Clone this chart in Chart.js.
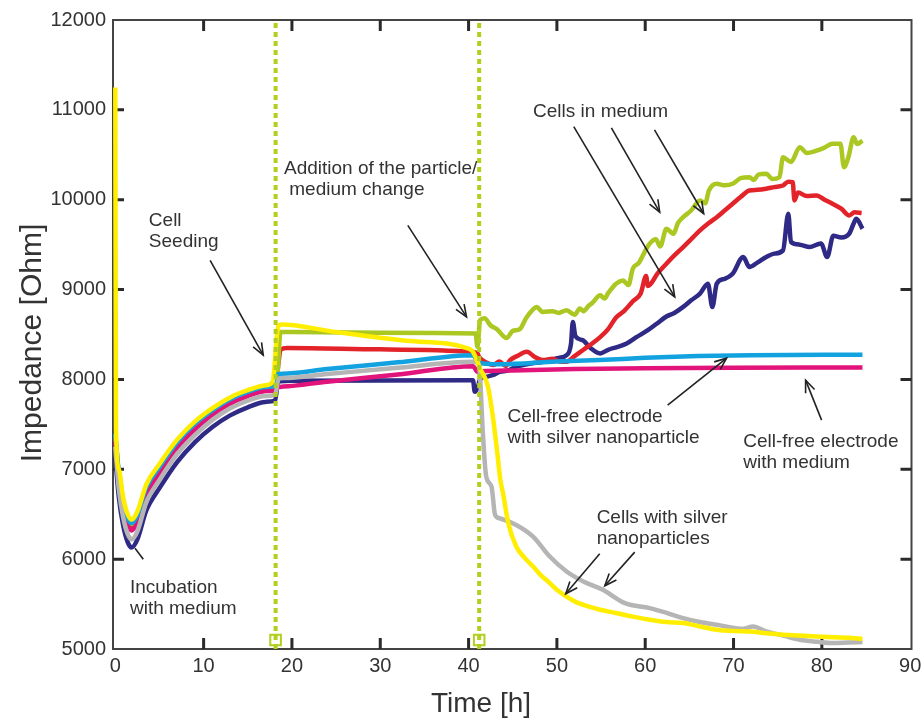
<!DOCTYPE html>
<html>
<head>
<meta charset="utf-8">
<script src="https://cdn.jsdelivr.net/npm/chart.js@4.4.0/dist/chart.umd.min.js"></script>
<style>
  html, body { margin: 0; padding: 0; background: #fff; }
  #wrap { width: 921px; height: 720px; }
</style>
</head>
<body>
<div id="wrap"><canvas id="impChart" width="921" height="720"></canvas></div>
<script>
/* ─── Axis ticks ─── */
const xTicks = [0, 10, 20, 30, 40, 50, 60, 70, 80, 90];
const yTicks = [5000, 6000, 7000, 8000, 9000, 10000, 11000, 12000];

/* ─── Events: cell seeding / particle addition (h) ─── */
const eventTimes = [18.15, 41.2];
const eventMarkerZ = 5100;

/* ─── Incubation phase, shared time base (h) ─── */
const incT = [0, 0.4, 0.9, 1.4, 1.85, 2.5, 3.5, 5, 7, 9, 11, 13, 15, 17, 18.1];

/* ─── Cells with silver nanoparticles (yellow) ─── */
const yellowT = [0, 0.08, 0.4, 0.9, 1.4, 1.85, 2.5, 3.5, 5, 7, 9, 11, 13, 15, 17, 17.8, 18.45, 18.8, 25, 33, 40, 40.5, 41.3, 42.2, 42.8, 43.3, 43.6, 43.9, 44.5, 45.4, 46.3, 47.3, 48.2, 49.2, 50.1, 51.1, 52, 53, 54.8, 56.7, 58.6, 60.5, 62.4, 64.3, 66.2, 68.1, 70, 71.8, 73.7, 75.6, 77.5, 79.4, 81.2, 83, 84.6];
const yellowZ = [11250, 7450, 7000, 6680, 6500, 6440, 6530, 6830, 7060, 7330, 7530, 7680, 7800, 7880, 7935, 7970, 8590, 8611, 8527, 8430, 8344, 8307, 8122, 7918, 7548, 7140, 6881, 6733, 6400, 6140, 6020, 5918, 5820, 5733, 5650, 5584, 5530, 5492, 5440, 5400, 5360, 5326, 5300, 5289, 5250, 5214, 5200, 5196, 5175, 5159, 5150, 5140, 5130, 5125, 5114];

/* ─── Cells with silver nanoparticles (gray) ─── */
const grayT = incT.concat([18.5, 19.0, 24, 32, 40.5, 41.1, 41.3, 41.6, 42, 42.6, 43, 43.5, 45.4, 47.3, 49.2, 51.1, 53, 55.2, 57.7, 60.5, 62.5, 64.3, 66.2, 68.1, 71.1, 72.2, 73.7, 75.6, 77.5, 79.5, 81.2, 83, 84.6]);
const grayZ = [7250, 6780, 6460, 6280, 6220, 6310, 6630, 6880, 7170, 7380, 7550, 7680, 7765, 7815, 7830,
  8011, 8015, 8060, 8130, 8196, 8180, 8029, 7436, 6918, 6807, 6492, 6455, 6381, 6251, 6029, 5862, 5751, 5659, 5511, 5455, 5400, 5344, 5300, 5270, 5225, 5251, 5196, 5150, 5103, 5080, 5066, 5072, 5077];

/* ─── Cell-free electrode with silver nanoparticle (cyan) ─── */
const cyanT = incT.concat([18.4, 18.9, 24, 32, 40.5, 41.0, 41.6, 43.5, 50, 54.8, 60, 66, 72, 84.6]);
const cyanZ = [7400, 6960, 6640, 6460, 6400, 6490, 6795, 7025, 7300, 7505, 7658, 7780, 7862, 7915, 7930,
  8059, 8064, 8115, 8190, 8270, 8200, 8178, 8170, 8200, 8215, 8240, 8260, 8270, 8275];

/* ─── Cell-free electrode with medium (magenta) ─── */
const magentaT = incT.concat([18.4, 19.0, 24, 32, 40.5, 41.0, 41.5, 45, 52, 60, 70, 84.6]);
const magentaZ = [7310, 6880, 6560, 6380, 6320, 6410, 6715, 6950, 7230, 7440, 7600, 7730, 7815, 7870, 7880,
  7914, 7920, 7975, 8055, 8148, 8085, 8090, 8100, 8115, 8125, 8130, 8133];

/* ─── Cells in medium (green) ─── */
const greenT = incT.concat([18.4, 18.7, 20, 30, 40.8, 41.0, 41.3, 41.8, 42.5, 43.2, 44.3, 45.0, 45.8, 46.5, 47.3, 47.7, 48.4, 49.5, 50.2, 51.1, 52, 52.6, 53, 53.6, 54, 54.9, 55.4, 55.8, 56.7, 57.5, 58.1, 58.6, 59.3, 60, 60.5, 61.2, 61.7, 62.4, 62.9, 63.2, 63.7, 64.3, 65.2, 66.2, 66.8, 67.2, 68.1, 69, 69.9, 70.8, 71.8, 72.3, 72.8, 73.7, 74.4, 75.2, 75.6, 76.5, 77.5, 78.3, 79.4, 80.3, 81.2, 82.1, 82.5, 83.0, 83.6, 84.0, 84.6]);
const greenZ = [7390, 6950, 6630, 6450, 6390, 6480, 6785, 7015, 7290, 7495, 7648, 7770, 7852, 7905, 7920,
  8100, 8529, 8527, 8520, 8511, 8362, 8660, 8680, 8600, 8560, 8460, 8540, 8560, 8680, 8780, 8806, 8750, 8760, 8740, 8770, 8720, 8790, 8760, 8820, 8850, 8937, 8900, 8960, 9066, 9100, 9050, 9233, 9300, 9430, 9511, 9560, 9480, 9677, 9640, 9620, 9740, 9806, 9880, 9992, 9960, 10100, 10177, 10160, 10177, 10240, 10251, 10220, 10280, 10288, 10230, 10250, 10473, 10420, 10584, 10520, 10547, 10580, 10622, 10622, 10362, 10473, 10695, 10620, 10658];

/* ─── Cells in medium (red) ─── */
const redT = incT.concat([18.5, 18.7, 19.5, 30, 40.5, 41.0, 41.2, 42, 42.8, 43.5, 44.2, 44.7, 45.5, 46.6, 47.5, 48.4, 49.5, 50.3, 51.1, 52, 53, 54, 54.9, 55.8, 56.7, 57.6, 58.6, 59.5, 60.1, 60.3, 61.4, 62.4, 63.3, 64.3, 65.2, 66.2, 67.2, 68.1, 69, 69.9, 70.8, 71.8, 72.7, 73.7, 74.6, 75.6, 76.2, 76.7, 76.9, 77.3, 78.3, 79.4, 80.3, 81.2, 82.2, 83.1, 83.7, 84.5]);
const redZ = [7340, 6910, 6590, 6410, 6350, 6440, 6745, 6980, 7255, 7465, 7625, 7750, 7835, 7890, 7905,
  8200, 8330, 8350, 8335, 8307, 8290, 8250, 8190, 8160, 8200, 8150, 8215, 8260, 8307, 8250, 8215, 8230, 8200, 8196, 8260, 8330, 8400, 8470, 8560, 8690, 8760, 8870, 8960, 9150, 9040, 9180, 9288, 9380, 9473, 9560, 9658, 9740, 9806, 9880, 9955, 10030, 10103, 10110, 10122, 10140, 10158, 10200, 10195, 9992, 10080, 10040, 10048, 10000, 9955, 9900, 9825, 9860, 9851];

/* ─── Cells in medium (navy) ─── */
const navyT = incT.concat([18.4, 18.7, 20, 40.5, 40.7, 41.0, 41.3, 42, 42.8, 43.5, 44.5, 45.3, 46.2, 47.2, 48.2, 49.2, 50.2, 51.1, 51.6, 51.8, 52.1, 52.9, 53.8, 54.9, 55.8, 56.8, 57.9, 59, 60.3, 61.3, 62.4, 63.3, 64.3, 65.2, 66.2, 67.1, 67.6, 68.1, 69, 69.9, 71.1, 71.8, 72.7, 73.7, 74.6, 75.6, 76.2, 76.5, 77.5, 78.6, 79.9, 80.6, 81.3, 82.2, 83.1, 83.6, 83.9, 84.6]);
const navyZ = [7130, 6690, 6370, 6190, 6130, 6220, 6540, 6790, 7080, 7300, 7470, 7600, 7690, 7750, 7765,
  7960, 7981, 7985, 7992, 7862, 7900, 8000, 8029, 8050, 8084, 8100, 8140, 8160, 8180, 8190, 8215, 8240, 8270, 8400, 8640, 8480, 8437, 8350, 8289, 8330, 8360, 8400, 8470, 8548, 8620, 8700, 8740, 8807, 8880, 8955, 9066, 8807, 9066, 9120, 9177, 9362, 9251, 9300, 9362, 9400, 9436, 9844, 9529, 9500, 9473, 9514, 9362, 9600, 9580, 9622, 9736, 9788, 9677];

/* ─── Annotations (data coordinates: h, Ohm) ─── */
const notes = [
    { lines: ['Cell', 'Seeding'], t: 3.8, z: 9762 },
    { lines: ['Addition of the particle/', ' medium change'], t: 19.1, z: 10344 },
    { lines: ['Cells in medium'], t: 47.3, z: 10984 },
    { lines: ['Cell-free electrode', 'with silver nanoparticle'], t: 44.4, z: 7584 },
    { lines: ['Cell-free electrode', 'with medium'], t: 71.1, z: 7307 },
    { lines: ['Cells with silver', 'nanoparticles'], t: 54.5, z: 6456 },
    { lines: ['Incubation', 'with medium'], t: 1.66, z: 5678 }
];
const pointers = [
    { from: [10.74, 9326], to: [16.75, 8270], head: true },
    { from: [33.12, 9715], to: [39.77, 8696], head: true },
    { from: [51.91, 10814], to: [63.34, 8918], head: true },
    { from: [56.17, 10800], to: [61.64, 9862], head: true },
    { from: [61.05, 10778], to: [66.62, 9844], head: true },
    { from: [62.54, 7714], to: [69.22, 8237], head: true },
    { from: [79.97, 7547], to: [78.16, 7992], head: true },
    { from: [54.85, 6059], to: [51.0, 5614], head: true },
    { from: [58.81, 6078], to: [55.42, 5703], head: true },
    { from: [3.17, 6000], to: [2.23, 6122], head: false }
];

const FONT = '"Liberation Sans", Arial, Helvetica, sans-serif';
const INK = '#333333';

function pts(T, Z) {
    return T.map(function (t, i) { return { x: t, y: Z[i] }; });
}

function curve(label, T, Z, color, order) {
    return {
        label: label,
        data: pts(T, Z),
        borderColor: color,
        borderWidth: 4.5,
        pointRadius: 0,
        fill: false,
        cubicInterpolationMode: 'monotone',
        order: order
    };
}

/* ─── Frame with inward ticks, axis titles, notes ─── */
const decorPlugin = {
    id: 'decor',
    beforeDatasetsDraw: function (chart) {
        const ctx = chart.ctx;
        const a = chart.chartArea;
        const xs = chart.scales.x, ys = chart.scales.y;
        ctx.save();
        ctx.strokeStyle = '#444';
        ctx.lineWidth = 2;
        ctx.strokeRect(a.left, a.top, a.right - a.left, a.bottom - a.top);
        ctx.strokeStyle = '#2a2a2a';
        ctx.lineWidth = 3;
        ctx.beginPath();
        xTicks.slice(1, -1).forEach(function (v) {
            const p = xs.getPixelForValue(v);
            ctx.moveTo(p, a.bottom); ctx.lineTo(p, a.bottom - 11);
            ctx.moveTo(p, a.top); ctx.lineTo(p, a.top + 11);
        });
        yTicks.slice(1, -1).forEach(function (v) {
            const p = ys.getPixelForValue(v);
            ctx.moveTo(a.left, p); ctx.lineTo(a.left + 11, p);
            ctx.moveTo(a.right, p); ctx.lineTo(a.right - 11, p);
        });
        ctx.stroke();
        ctx.restore();
    },
    afterDatasetsDraw: function (chart) {
        const ctx = chart.ctx;
        const xs = chart.scales.x, ys = chart.scales.y;
        ctx.save();
        ctx.fillStyle = INK;
        ctx.textAlign = 'left';
        ctx.textBaseline = 'middle';
        ctx.font = '19px ' + FONT;
        notes.forEach(function (n) {
            const x = xs.getPixelForValue(n.t);
            const y = ys.getPixelForValue(n.z);
            n.lines.forEach(function (s, i) { ctx.fillText(s, x, y + i * 21); });
        });

        ctx.strokeStyle = '#222';
        ctx.lineWidth = 1.6;
        pointers.forEach(function (p) {
            const x1 = xs.getPixelForValue(p.from[0]), y1 = ys.getPixelForValue(p.from[1]);
            const x2 = xs.getPixelForValue(p.to[0]), y2 = ys.getPixelForValue(p.to[1]);
            ctx.beginPath(); ctx.moveTo(x1, y1); ctx.lineTo(x2, y2); ctx.stroke();
            if (p.head) {
                const ang = Math.atan2(y2 - y1, x2 - x1), L = 13, w = 0.38;
                ctx.beginPath();
                ctx.moveTo(x2 - L * Math.cos(ang - w), y2 - L * Math.sin(ang - w));
                ctx.lineTo(x2, y2);
                ctx.lineTo(x2 - L * Math.cos(ang + w), y2 - L * Math.sin(ang + w));
                ctx.stroke();
            }
        });

        /* Axis titles */
        ctx.textAlign = 'center';
        ctx.font = '28px ' + FONT;
        ctx.fillText('Time [h]', 481, 704);
        ctx.translate(33, 343);
        ctx.rotate(-Math.PI / 2);
        ctx.font = '30px ' + FONT;
        ctx.fillText('Impedance [Ohm]', 0, 0);
        ctx.restore();
    }
};

const eventSets = eventTimes.map(function (t) {
    return {
        label: 'event ' + t,
        data: [{ x: t, y: yTicks[0] }, { x: t, y: yTicks[yTicks.length - 1] }],
        borderColor: '#B3CE1D',
        borderWidth: 4,
        borderDash: [5, 4],
        pointRadius: 0,
        fill: false,
        order: 0
    };
});
const markerSet = {
    label: 'markers',
    data: eventTimes.map(function (t) { return { x: t, y: eventMarkerZ }; }),
    showLine: false,
    pointStyle: 'rect',
    pointRadius: 7.5,
    pointBorderWidth: 2,
    pointBorderColor: '#B3CE1D',
    pointBackgroundColor: 'rgba(255,255,255,0)',
    order: 0
};

new Chart(document.getElementById('impChart'), {
    type: 'line',
    data: {
        datasets: [
            curve('Cells in medium (navy)', navyT, navyZ, '#2E2A85', 7),
            curve('Cells in medium (red)', redT, redZ, '#E3232A', 6),
            curve('Cells in medium (green)', greenT, greenZ, '#AAC722', 5),
            curve('Cell-free electrode with medium', magentaT, magentaZ, '#E2147B', 4),
            curve('Cell-free electrode with silver nanoparticle', cyanT, cyanZ, '#13A2E0', 3),
            curve('Cells with silver nanoparticles (gray)', grayT, grayZ, '#B5B5B5', 2),
            curve('Cells with silver nanoparticles (yellow)', yellowT, yellowZ, '#FFEE00', 1)
        ].concat(eventSets, [markerSet])
    },
    options: {
        responsive: false,
        animation: false,
        devicePixelRatio: 1,
        layout: { padding: { top: 20, right: 9, bottom: 0, left: 0 } },
        plugins: { legend: { display: false }, tooltip: { enabled: false } },
        scales: {
            x: {
                type: 'linear',
                min: -0.26,
                max: 90.15,
                afterBuildTicks: function (s) { s.ticks = xTicks.map(function (v) { return { value: v }; }); },
                afterFit: function (s) { s.height = 71; s.paddingLeft = 0; s.paddingRight = 0; },
                grid: { display: false, drawTicks: false },
                border: { display: false },
                ticks: {
                    autoSkip: false, maxRotation: 0, padding: 5,
                    color: INK, font: { family: FONT, size: 20 },
                    callback: function (v) { return String(v); }
                }
            },
            y: {
                type: 'linear',
                min: 5000,
                max: 12000,
                afterBuildTicks: function (s) { s.ticks = yTicks.map(function (v) { return { value: v }; }); },
                afterFit: function (s) { s.width = 113; s.paddingTop = 0; s.paddingBottom = 0; },
                grid: { display: false, drawTicks: false },
                border: { display: false },
                ticks: {
                    padding: 7,
                    color: INK, font: { family: FONT, size: 20 },
                    callback: function (v) { return String(v); }
                }
            }
        }
    },
    plugins: [decorPlugin]
});
</script>
</body>
</html>
